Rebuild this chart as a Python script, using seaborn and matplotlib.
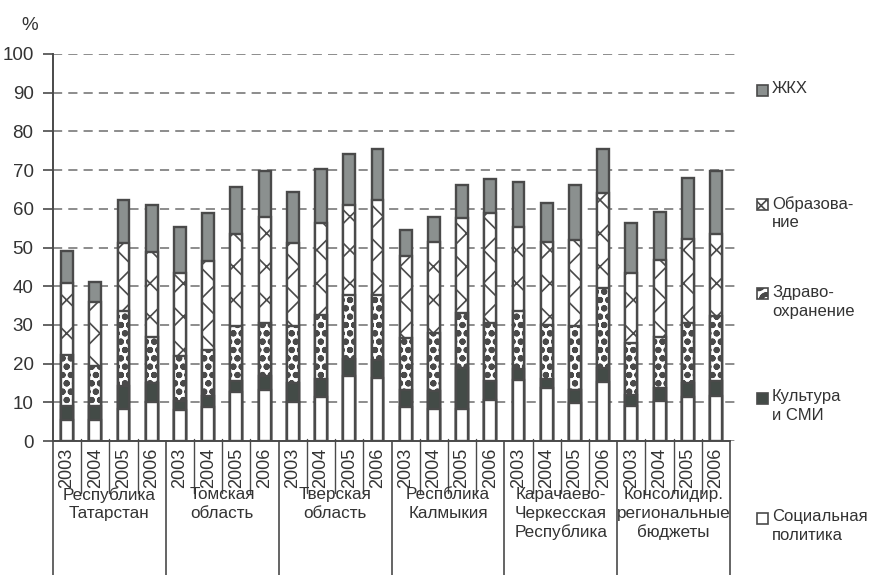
import numpy as np
import pandas as pd
import matplotlib
matplotlib.use("Agg")
import matplotlib.pyplot as plt
import seaborn as sns
from matplotlib.patches import Rectangle
from matplotlib.transforms import blended_transform_factory
from matplotlib import font_manager

# ---------------- data ----------------
regions = ["Республика\nТатарстан", "Томская\nобласть", "Тверская\nобласть",
           "Респблика\nКалмыкия", "Карачаево-\nЧеркесская\nРеспублика",
           "Консолидир.\nрегиональные\nбюджеты"]
years = ["2003", "2004", "2005", "2006"]

social = [5.4, 5.4, 8.3, 10.0, 7.9, 8.8, 12.6, 13.1, 10.0, 11.4, 16.7, 16.3,
          8.8, 8.3, 8.3, 10.7, 15.7, 13.7, 9.9, 15.2, 9.0, 10.3, 11.4, 11.6]
culture = [3.6, 3.6, 5.9, 5.0, 2.4, 2.8, 2.9, 3.6, 5.0, 4.5, 4.5, 4.7,
           4.3, 4.6, 10.6, 4.8, 2.8, 2.4, 3.4, 3.7, 3.0, 3.4, 3.6, 3.9]
health = [13.1, 10.3, 19.3, 11.9, 11.6, 11.8, 14.1, 13.8, 14.6, 16.7, 16.4, 16.8,
          13.5, 15.0, 14.1, 15.0, 15.0, 13.9, 16.5, 20.6, 13.3, 13.3, 15.6, 16.7]
education = [18.8, 16.5, 17.7, 22.0, 21.4, 23.0, 24.0, 27.4, 21.5, 23.8, 23.3, 24.4,
             21.2, 23.6, 24.7, 28.3, 21.9, 21.5, 22.1, 24.6, 18.2, 19.8, 21.5, 21.4]
housing = [8.1, 5.4, 11.1, 12.1, 12.0, 12.4, 12.1, 11.9, 13.3, 13.8, 13.2, 13.3,
           6.7, 6.4, 8.4, 8.8, 11.4, 10.0, 14.2, 11.4, 12.9, 12.3, 15.9, 16.2]

legend_labels = ["ЖКХ", "Образова-\nние", "Здраво-\nохранение", "Культура\nи СМИ",
                 "Социальная\nполитика"]
y_ticks = [0, 10, 20, 30, 40, 50, 60, 70, 80, 90, 100]

# ---------------- style ----------------
sns.set_theme(style="white")
avail = {f.name for f in font_manager.fontManager.ttflist}
base = "Liberation Sans Narrow" if "Liberation Sans Narrow" in avail else "Liberation Sans"
plt.rcParams["font.family"] = [base, "DejaVu Sans"]
plt.rcParams["hatch.color"] = "#4a4a4a"
plt.rcParams["hatch.linewidth"] = 1.2

EDGE = "#4a4a4a"
TXT = "#333333"
C_HOUSING = "#8b908f"
C_CULT = "#434b47"
DOT_HATCH = "oo"

fig = plt.figure(figsize=(8.69, 5.75), dpi=100)
ax = fig.add_axes([53 / 869, 1 - 441 / 575, (740 - 53) / 869, (441 - 54) / 575])

n = len(social)
labels_pos = [f"b{i}" for i in range(n)]
df = pd.DataFrame({"pos": labels_pos, "social": social, "culture": culture,
                   "health": health, "education": education, "housing": housing})
df["c1"] = df["social"]
df["c2"] = df["c1"] + df["culture"]
df["c3"] = df["c2"] + df["health"]
df["c4"] = df["c3"] + df["education"]
df["c5"] = df["c4"] + df["housing"]

layers = [("c5", C_HOUSING, None),
          ("c4", "white", "x"),
          ("c3", "white", DOT_HATCH),
          ("c2", C_CULT, None),
          ("c1", "white", None)]

for col, fc, h in layers:
    before = len(ax.patches)
    sns.barplot(data=df, x="pos", y=col, order=labels_pos, color=fc, saturation=1,
                width=0.42, edgecolor=EDGE, linewidth=1.7, hatch=h, errorbar=None, ax=ax)
    if h == DOT_HATCH:
        for p in ax.patches[before:]:
            if hasattr(p, "set_hatch_linewidth"):
                p.set_hatch_linewidth(2.1)

ax.set_xlim(-0.5, 23.85)
ax.set_ylim(0, 100)
ax.set_xlabel("")
ax.set_ylabel("")

# y axis
ax.set_yticks(y_ticks)
ax.set_yticklabels([str(v) for v in y_ticks], fontsize=13.5, color=TXT)
ax.tick_params(axis="y", direction="out", length=7, width=1.2, color=EDGE, pad=7, left=True)
ax.yaxis.grid(True, linestyle=(0, (6, 4)), color="#6e6e6e", linewidth=1.1)
ax.xaxis.grid(False)
ax.set_axisbelow(True)

# x axis
ax.set_xticks(range(n))
ax.set_xticklabels(years * len(regions), rotation=90, fontsize=13, color=TXT)
ax.tick_params(axis="x", length=0, pad=5, bottom=False)

for s in ["top", "right"]:
    ax.spines[s].set_visible(False)
ax.spines["left"].set_color(EDGE)
ax.spines["left"].set_linewidth(1.4)
ax.spines["bottom"].set_color(EDGE)
ax.spines["bottom"].set_linewidth(1.4)
ax.spines["bottom"].set_bounds(-0.5, 23.5)

# separators below axis
tr = blended_transform_factory(ax.transData, fig.transFigure)
y_axis_f = 1 - 441 / 575
for k in range(n + 1):
    x = k - 0.5
    if k % 4 == 0:
        ax.plot([x, x], [y_axis_f, 0.0], transform=tr, color=EDGE, lw=1.2, clip_on=False)
    else:
        ax.plot([x, x], [y_axis_f + 0.004, 1 - 493 / 575], transform=tr, color=EDGE,
                lw=1.0, clip_on=False)

# group labels
for g, name in enumerate(regions):
    ax.text(g * 4 + 1.5, 1 - 487 / 575, name, transform=tr, ha="center", va="top",
            fontsize=12.3, color=TXT, linespacing=1.3)

# % label
fig.text(30 / 869, 1 - 25 / 575, "%", ha="center", va="center", fontsize=13.5, color=TXT)

# legend (right side)
leg_rows = [(90, C_HOUSING, None), (205, "white", "xxx"), (294, "white", "O"),
            (398, C_CULT, None), (518, "white", None)]
for (yc, fc, h), lab in zip(leg_rows, legend_labels):
    sq = 11
    r = Rectangle((757 / 869, 1 - (yc + sq / 2) / 575), sq / 869, sq / 575,
                  transform=fig.transFigure, facecolor=fc, edgecolor=EDGE, lw=1.2,
                  hatch=h)
    if h == "O" and hasattr(r, "set_hatch_linewidth"):
        r.set_hatch_linewidth(3.0)
    fig.add_artist(r)
    fig.text(772 / 869, 1 - (yc - 9) / 575, lab, ha="left", va="top", fontsize=12,
             color=TXT, linespacing=1.3)

fig.savefig("out.png", dpi=100)
